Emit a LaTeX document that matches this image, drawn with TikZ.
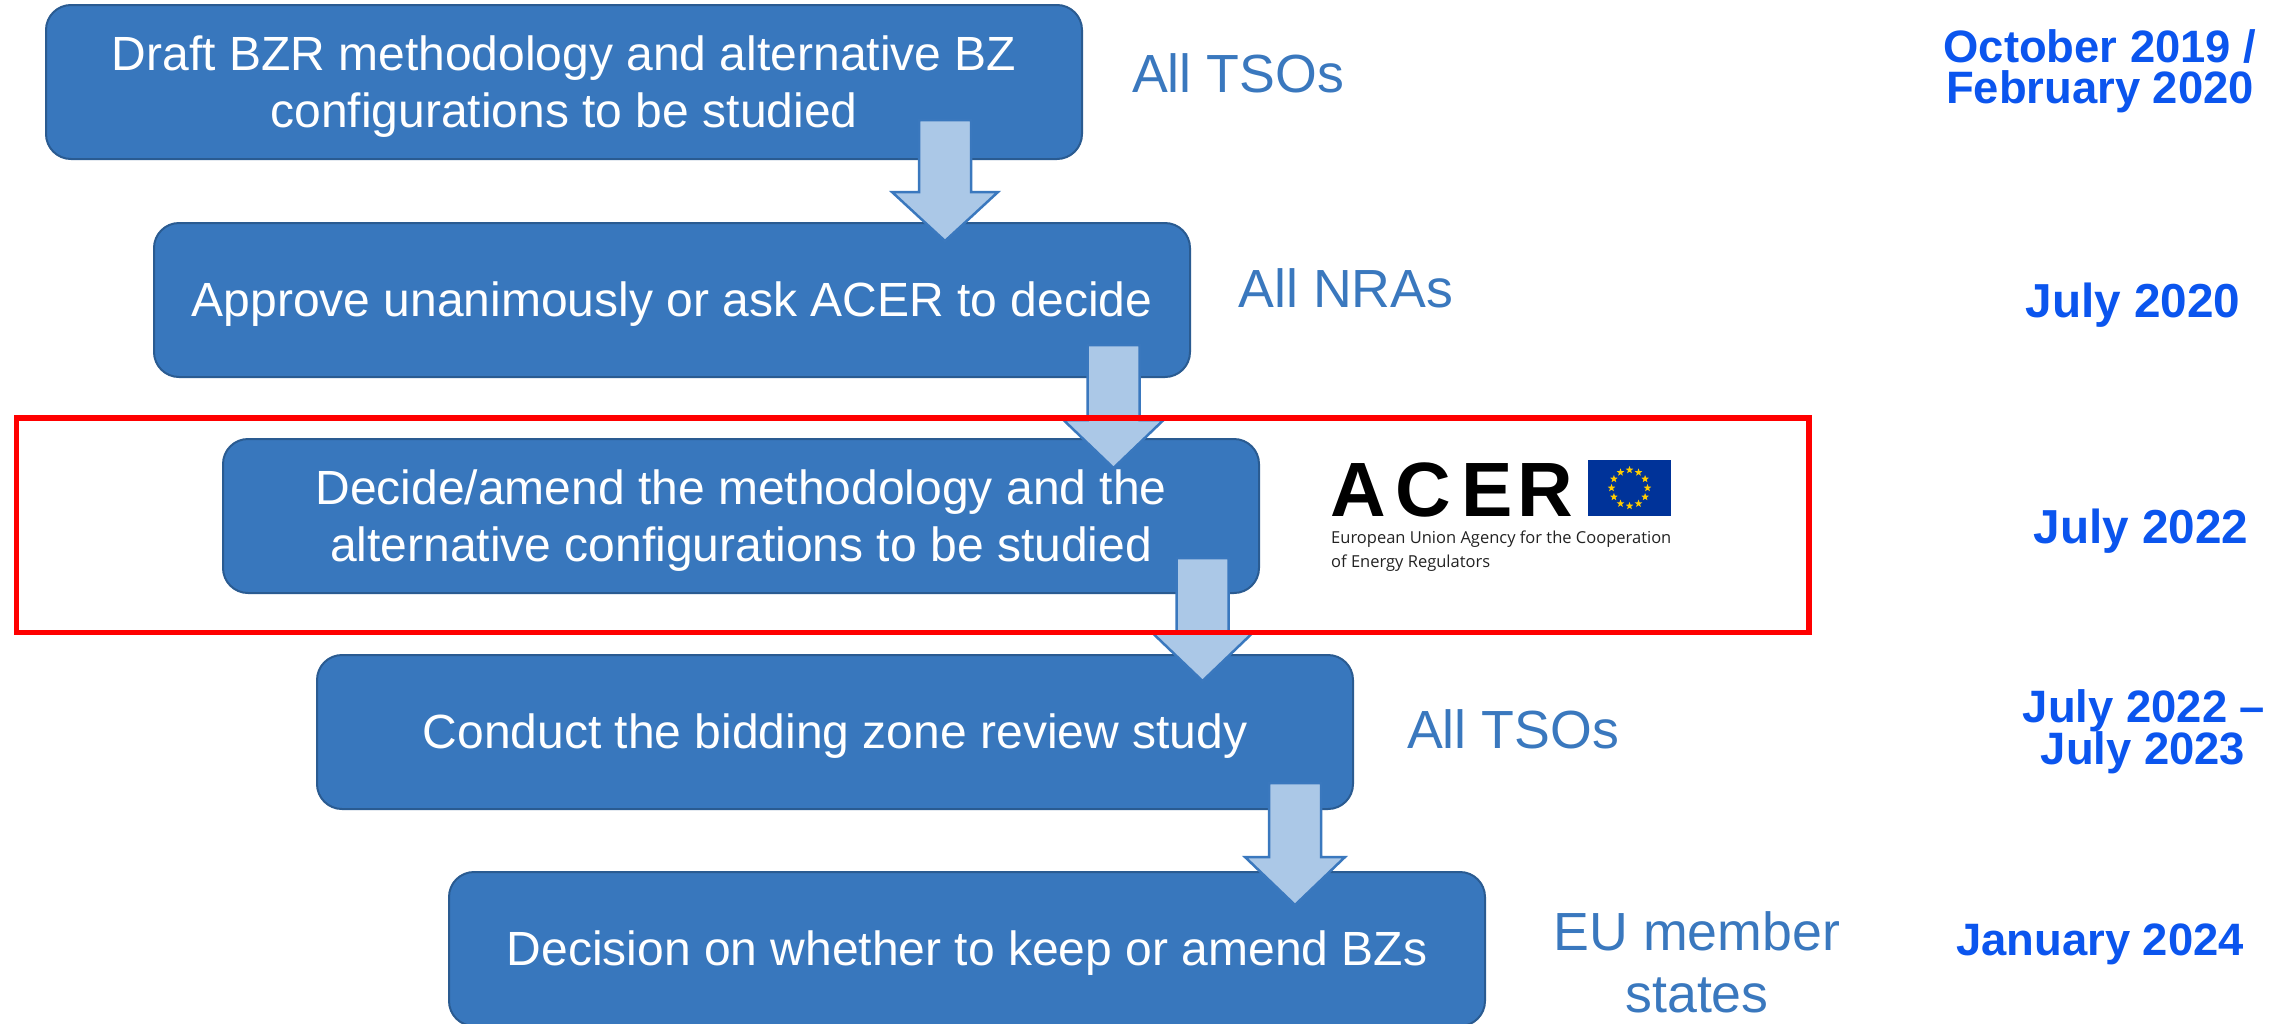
\documentclass[tikz,border=0pt]{standalone}
\usepackage{fontspec}
\setmainfont{Liberation Sans}
\newfontfamily\logofont{Open Sans}
\newfontfamily\logobold{Liberation Sans}
\usetikzlibrary{shapes.geometric}
\definecolor{boxfill}{HTML}{3877BD}
\definecolor{boxline}{HTML}{2A5B91}
\definecolor{arrfill}{HTML}{ABC8E7}
\definecolor{arrline}{HTML}{3A78BE}
\definecolor{datecol}{HTML}{0B55EE}
\definecolor{actorcol}{HTML}{3A78BE}
\definecolor{flagblue}{HTML}{003399}
\definecolor{flagstar}{HTML}{FFCC00}
\definecolor{logotext}{HTML}{222222}
\newcommand{\tb}{\rule{0pt}{43pt}}
\tikzset{
  stepbox/.style={draw=boxline,line width=2pt,fill=boxfill,rounded corners=25pt,
    minimum width=1036pt,minimum height=154pt,inner sep=0pt,align=center,text=white,
    font=\fontsize{48}{57}\selectfont},
  blockarrow/.style={draw=arrline,line width=2.5pt,fill=arrfill,line join=miter},
  actor/.style={anchor=base,inner sep=0pt,align=center,text=actorcol,
    font=\fontsize{53.7}{62}\selectfont},
  datelabel/.style={anchor=base,inner sep=0pt,text=datecol,
    font=\fontsize{45.4}{45.4}\selectfont\bfseries},
  datelarge/.style={anchor=base,inner sep=0pt,text=datecol,
    font=\fontsize{47.7}{47.7}\selectfont\bfseries},
  logoletter/.style={anchor=base,inner sep=0pt,text=black,
    font=\logobold\fontsize{77}{77}\selectfont\bfseries},
  logosub/.style={anchor=base west,inner sep=0pt,text=logotext,
    font=\logofont\fontsize{16.5}{16.5}\selectfont},
  eustar/.style={star,star points=5,star point ratio=2.4,fill=flagstar,inner sep=0pt,minimum size=8pt}
}
\newcommand{\blockarr}[6]{%
  \coordinate (#1) at (#2,#3);
  \draw[blockarrow] (#1) ++(-26,0) -- ++(52,0) -- (#2+26,#4) -- (#2+#6,#4) -- (#2,#5) -- (#2-#6,#4) -- (#2-26,#4) -- cycle;
}
\begin{document}
\begin{tikzpicture}[x=1pt,y=-1pt]
\useasboundingbox (0,0) rectangle (2292,1023);
\clip (0,0) rectangle (2292,1023);
\node[stepbox] (draft) at (564,82) {\tb Draft BZR methodology and alternative BZ\\configurations to be studied};
\node[stepbox] (approve) at (672,300) {\tb Approve unanimously or ask ACER to decide};
\node[stepbox] (decide) at (741,516) {\tb Decide/amend the methodology and the\\alternative configurations to be studied};
\node[stepbox] (conduct) at (835,732) {\tb Conduct the bidding zone review study};
\node[stepbox] (keep) at (967,949) {\tb Decision on whether to keep or amend BZs};
\blockarr{a1}{945}{120}{192}{241}{53}
\blockarr{a2}{1113.5}{345}{420}{468}{50}
\blockarr{a3}{1202.5}{558}{633}{681}{50}
\blockarr{a4}{1295}{783}{857}{905}{50}
\draw[red,line width=5.5pt] (16.5,418) rectangle (1809,632.5);
\node[actor] (t1) at (1238,92) {All TSOs};
\node[actor] (t2) at (1346,307) {All NRAs};
\node[actor] (t3) at (1513,748) {All TSOs};
\node[actor] (t4) at (1697,950) {EU member};
\node[actor] (t5) at (1697,1012) {states};
\node[datelabel] (d1a) at (2100,62) {October 2019 /};
\node[datelabel] (d1b) at (2100,103) {February 2020};
\node[datelarge] (d2) at (2133,317) {July 2020};
\node[datelarge] (d3) at (2141,543) {July 2022};
\node[datelabel] (d4a) at (2144,722) {July 2022 --};
\node[datelabel] (d4b) at (2143,764) {July 2023};
\node[datelabel] (d5) at (2100,955) {January 2024};
\node[logoletter] (la) at (1358,516) {A};
\node[logoletter] (lc) at (1423,516) {C};
\node[logoletter] (le) at (1487,516) {E};
\node[logoletter] (lr) at (1545,516) {R};
\fill[flagblue] (1588,460) rectangle (1671,516);
\foreach \k in {0,30,...,330}
  \node[eustar] at ({1629.5+18*sin(\k)},{488-18*cos(\k)}) {};
\node[logosub] (ls1) at (1331,543) {European Union Agency for the Cooperation};
\node[logosub] (ls2) at (1331,567) {of Energy Regulators};
\end{tikzpicture}
\end{document}
